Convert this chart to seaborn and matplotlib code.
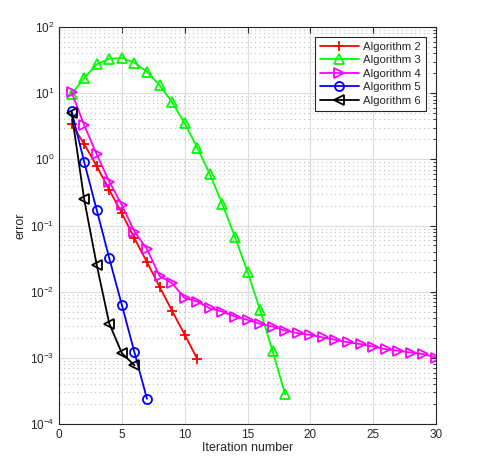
import matplotlib
matplotlib.use('Agg')
import matplotlib.pyplot as plt
from matplotlib.ticker import LogLocator, MultipleLocator, NullFormatter
import seaborn as sns
import pandas as pd

# error per iteration
alg2 = [3.4, 1.71, 0.79, 0.345, 0.153, 0.064, 0.028, 0.0119, 0.0051, 0.00225, 0.00096]
alg3 = [9.7, 16.8, 27.3, 33.2, 33.9, 28.9, 21.1, 13.2, 7.3, 3.5, 1.5, 0.60, 0.21,
        0.067, 0.020, 0.0053, 0.00125, 0.00028]
alg4 = [10.4, 3.3, 1.19, 0.46, 0.205, 0.081, 0.044, 0.0173, 0.0134, 0.0080, 0.0071,
        0.0056, 0.0050, 0.0042, 0.00375, 0.00327, 0.00297, 0.00258, 0.00236, 0.00222,
        0.00203, 0.00187, 0.00172, 0.00161, 0.00148, 0.00135, 0.00128, 0.00120,
        0.00114, 0.00101]
alg5 = [5.4, 0.92, 0.172, 0.032, 0.0063, 0.00122, 0.00024]
alg6 = [5.1, 0.25, 0.0254, 0.0033, 0.00118, 0.00077]

y_ticks = [1e-4, 1e-3, 1e-2, 1e-1, 1e0, 1e1, 1e2]
y_ticklabels = ['$10^{-4}$', '$10^{-3}$', '$10^{-2}$', '$10^{-1}$',
                '$10^{0}$', '$10^{1}$', '$10^{2}$']

series = {
    'Algorithm 2': alg2,
    'Algorithm 3': alg3,
    'Algorithm 4': alg4,
    'Algorithm 5': alg5,
    'Algorithm 6': alg6,
}
colors = {'Algorithm 2': '#ff0000', 'Algorithm 3': '#00ff00', 'Algorithm 4': '#ff00ff',
          'Algorithm 5': '#0000ff', 'Algorithm 6': '#000000'}
markers = {'Algorithm 2': '+', 'Algorithm 3': '^', 'Algorithm 4': '>',
           'Algorithm 5': 'o', 'Algorithm 6': '<'}
msizes = {'Algorithm 2': 7.5, 'Algorithm 3': 7.5, 'Algorithm 4': 7.5,
          'Algorithm 5': 6.5, 'Algorithm 6': 7.5}

rows = []
for name, vals in series.items():
    for i, v in enumerate(vals):
        rows.append({'iter': i + 1, 'error': v, 'alg': name})
df = pd.DataFrame(rows)

sns.set_theme(style='white')
plt.rcParams['font.family'] = ['Liberation Sans', 'DejaVu Sans']
plt.rcParams['mathtext.fontset'] = 'custom'
plt.rcParams['mathtext.rm'] = 'Liberation Sans'
plt.rcParams['axes.unicode_minus'] = False

fig = plt.figure(figsize=(4.82, 4.70), dpi=100)
ax = fig.add_axes([59 / 482, 1 - 424 / 470, 377 / 482, 397 / 470])

for name in series:
    sub = df[df['alg'] == name]
    sns.lineplot(data=sub, x='iter', y='error', ax=ax, color=colors[name],
                 marker=markers[name], markersize=msizes[name], linewidth=1.3,
                 markerfacecolor='none', markeredgecolor=colors[name],
                 markeredgewidth=1.3, label=name)

ax.set_yscale('log')
ax.set_xlim(0, 30)
ax.set_ylim(1e-4, 1e2)
ax.xaxis.set_major_locator(MultipleLocator(5))
ax.set_yticks(y_ticks)
ax.set_yticklabels(y_ticklabels)
ax.yaxis.set_minor_locator(LogLocator(base=10, subs=range(2, 10), numticks=20))
ax.yaxis.set_minor_formatter(NullFormatter())

ax.grid(True, which='major', color='#dcdcdc', linewidth=0.8, linestyle='-')
ax.yaxis.grid(True, which='minor', color='#c0c0c0', linewidth=0.8, linestyle=(0, (1, 3)))
ax.set_axisbelow(True)

ax.tick_params(which='both', direction='in', top=True, right=True,
               labelsize=8.5, colors='#262626')
ax.tick_params(which='major', length=4, width=0.8)
ax.tick_params(which='minor', length=2, width=0.6)
for sp in ax.spines.values():
    sp.set_color('#262626')
    sp.set_linewidth(0.8)

ax.set_xlabel('Iteration number', fontsize=9, color='#262626', labelpad=1)
ax.set_ylabel('error', fontsize=9, color='#262626', labelpad=2)

leg = ax.legend(loc='upper right', fontsize=8.2, frameon=True, fancybox=False,
                edgecolor='#262626', framealpha=1, borderpad=0.45,
                labelspacing=0.3, handlelength=3.4, handletextpad=0.4,
                borderaxespad=0, bbox_to_anchor=(0.9735, 0.975))
leg.get_frame().set_linewidth(0.8)

fig.savefig('out.png', dpi=100)
